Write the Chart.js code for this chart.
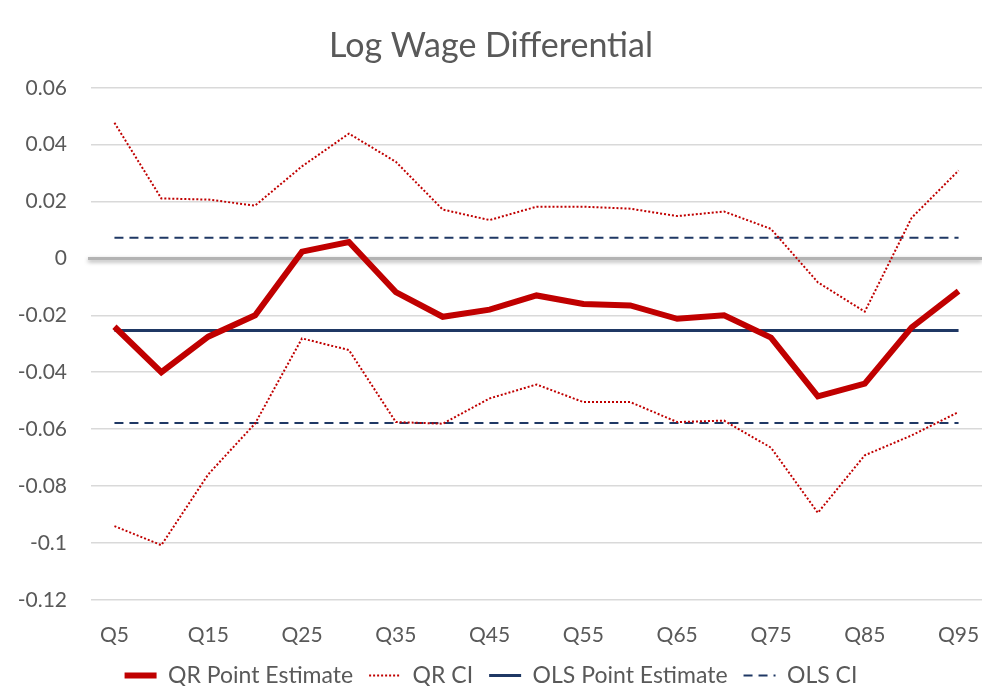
<!DOCTYPE html>
<html>
<head>
<meta charset="utf-8">
<script src="https://cdn.jsdelivr.net/npm/chart.js@4"></script>
<style>
  html, body { margin: 0; padding: 0; background: #fff; }
  #wrap { width: 982px; height: 686px; }
</style>
</head>
<body>
<div id="wrap"><canvas id="myChart"></canvas></div>
<script>
const quantiles = ["Q5", "Q10", "Q15", "Q20", "Q25", "Q30", "Q35", "Q40", "Q45", "Q50",
  "Q55", "Q60", "Q65", "Q70", "Q75", "Q80", "Q85", "Q90", "Q95"];
const qrPoint = [-0.024, -0.040, -0.0275, -0.020, 0.0024, 0.0058, -0.0118, -0.0205, -0.018, -0.013,
  -0.016, -0.0165, -0.0212, -0.020, -0.0278, -0.0485, -0.044, -0.0242, -0.0115];
const qrUpper = [0.0477, 0.0211, 0.0207, 0.0186, 0.0324, 0.0439, 0.034, 0.0172, 0.0135, 0.0182,
  0.0182, 0.0175, 0.0149, 0.0165, 0.0104, -0.0084, -0.0187, 0.0143, 0.0309];
const qrLower = [-0.0941, -0.1008, -0.0759, -0.058, -0.0281, -0.0322, -0.0575, -0.0581, -0.0492, -0.0443,
  -0.0505, -0.0505, -0.0575, -0.057, -0.0665, -0.0894, -0.0692, -0.0622, -0.054];
const olsPoint = -0.0253;
const olsUpper = 0.0073;
const olsLower = -0.0578;

const red = "#C00000";
const navy = "#1F3864";
const textGrey = "#595959";
const fontName = "Lato";

const flat = (v) => quantiles.map(() => v);

// zero line drawn with a soft shadow, like the Excel axis
const zeroLine = {
  id: "zeroLine",
  beforeDatasetsDraw(chart) {
    const y = chart.scales.y.getPixelForValue(0);
    const { left, right } = chart.chartArea;
    const c = chart.ctx;
    c.save();
    c.strokeStyle = "#b3b3b3";
    c.lineWidth = 3;
    c.shadowColor = "rgba(0,0,0,0.35)";
    c.shadowBlur = 4;
    c.shadowOffsetY = 2;
    c.beginPath();
    c.moveTo(left - 3, y);
    c.lineTo(right, y);
    c.stroke();
    c.restore();
  },
};

// legend items with the dataset's dash pattern (point style drops it)
function legendLabels(chart) {
  const items = Chart.defaults.plugins.legend.labels.generateLabels(chart);
  return items
    .filter((item) => !item.text.includes("lower"))
    .map((item) => {
      const ds = chart.data.datasets[item.datasetIndex];
      item.lineDash = ds.borderDash || [];
      item.lineWidth = ds.borderWidth;
      return item;
    });
}

const ctx = document.getElementById("myChart");

new Chart(ctx, {
  type: "line",
  data: {
    labels: quantiles,
    datasets: [
      { label: "QR Point Estimate", data: qrPoint, borderColor: red, backgroundColor: red, borderWidth: 6 },
      { label: "QR CI", data: qrUpper, borderColor: red, backgroundColor: red, borderWidth: 2, borderDash: [2, 2] },
      { label: "QR CI lower", data: qrLower, borderColor: red, backgroundColor: red, borderWidth: 2, borderDash: [2, 2] },
      { label: "OLS Point Estimate", data: flat(olsPoint), borderColor: navy, backgroundColor: navy, borderWidth: 3 },
      { label: "OLS CI", data: flat(olsUpper), borderColor: navy, backgroundColor: navy, borderWidth: 2, borderDash: [9, 6] },
      { label: "OLS CI lower", data: flat(olsLower), borderColor: navy, backgroundColor: navy, borderWidth: 2, borderDash: [9, 6] },
    ],
  },
  options: {
    responsive: true,
    maintainAspectRatio: false,
    animation: false,
    elements: {
      point: { radius: 0, hoverRadius: 0 },
      line: { tension: 0, fill: false, borderCapStyle: "butt" },
    },
    layout: { padding: { left: 0, right: 0, top: 0, bottom: -11 } },
    plugins: {
      title: {
        display: true,
        text: "Log Wage Differential",
        color: textGrey,
        font: { family: fontName, size: 34, weight: "normal" },
        padding: { top: 26, bottom: 21 },
      },
      legend: {
        position: "bottom",
        labels: {
          color: textGrey,
          font: { family: fontName, size: 23 },
          usePointStyle: true,
          pointStyle: "line",
          pointStyleWidth: 32,
          boxWidth: 32,
          boxHeight: 6,
          padding: 16,
          generateLabels: legendLabels,
        },
      },
      tooltip: { enabled: false },
    },
    scales: {
      x: {
        offset: true,
        grid: { display: false, drawTicks: true, tickLength: 23 },
        border: { display: false },
        ticks: {
          color: textGrey,
          font: { family: fontName, size: 21 },
          autoSkip: false,
          maxRotation: 0,
          padding: 0,
          callback: function (val, i) {
            return i % 2 === 0 ? this.getLabelForValue(val) : "";
          },
        },
      },
      y: {
        min: -0.12,
        max: 0.06,
        afterFit: (scale) => { scale.width = 91; },
        border: { display: false },
        grid: {
          drawTicks: false,
          color: (c) => (c.tick && c.tick.value === 0 ? "rgba(0,0,0,0)" : "#d9d9d9"),
          lineWidth: 1.5,
        },
        ticks: {
          stepSize: 0.02,
          color: textGrey,
          font: { family: fontName, size: 21 },
          padding: 24,
          callback: (v) => String(Math.round(v * 100) / 100),
        },
      },
    },
  },
  plugins: [zeroLine],
});
</script>
</body>
</html>
